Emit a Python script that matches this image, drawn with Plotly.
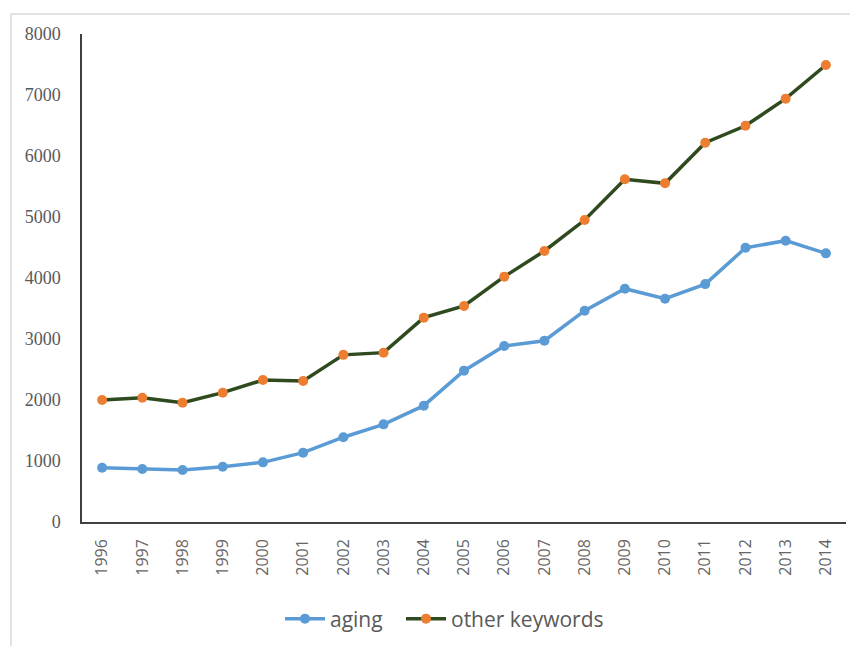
import plotly.graph_objects as go

years = [str(y) for y in range(1996, 2015)]
aging = [890, 869, 852, 907, 978, 1137, 1390, 1601, 1907, 2481, 2885, 2972, 3464, 3825, 3660, 3900, 4495, 4612, 4404]
other_keywords = [2000, 2038, 1956, 2120, 2328, 2311, 2740, 2776, 3350, 3541, 4022, 4443, 4950, 5618, 5552, 6218, 6495, 6940, 7492]
y_ticks = [0, 1000, 2000, 3000, 4000, 5000, 6000, 7000, 8000]

fig = go.Figure()
fig.add_trace(go.Scatter(
    x=years, y=aging, name="aging", mode="lines+markers",
    line=dict(color="#5B9BD5", width=3.5),
    marker=dict(color="#5B9BD5", size=10),
    legend="legend",
))
fig.add_trace(go.Scatter(
    x=years, y=other_keywords, name="other keywords", mode="lines+markers",
    line=dict(color="#2E4A1E", width=3.5),
    marker=dict(color="#ED7D31", size=10),
    legend="legend2",
))

# page has an 8px body offset; figure coordinates = screen - 8
OFF = 8
W, H = 858, 646
ml, mt = 82 - OFF, 34 - OFF
plot_right, plot_bottom = 846 - OFF, 522 - OFF
mr, mb = W - plot_right, H - plot_bottom
pw, ph = W - ml - mr, H - mt - mb

def px(x):
    return (x - OFF - ml) / pw

def py(y):
    return (H - mb - (y - OFF)) / ph

legend_font = dict(family="Open Sans, Liberation Sans", size=21, color="#595959")

fig.update_layout(
    width=W, height=H,
    margin=dict(l=ml, r=mr, t=mt, b=mb),
    paper_bgcolor="white", plot_bgcolor="white",
    showlegend=True,
    legend=dict(orientation="h", x=px(280), xanchor="left", y=py(619), yanchor="middle",
                font=legend_font, bgcolor="rgba(0,0,0,0)", itemwidth=40),
    legend2=dict(orientation="h", x=px(401), xanchor="left", y=py(619), yanchor="middle",
                 font=legend_font, bgcolor="rgba(0,0,0,0)", itemwidth=40),
    shapes=[dict(type="rect", xref="paper", yref="paper",
                 x0=px(11), x1=px(900), y0=py(700), y1=py(14),
                 line=dict(color="#D9D9D9", width=1.5), layer="below")],
)
fig.update_xaxes(
    type="category", range=[-0.5, 18.5], tickangle=-90,
    showline=True, linecolor="#404040", linewidth=1.5, showgrid=False,
    ticks="", ticklabelstandoff=9,
    tickfont=dict(family="Open Sans, Liberation Sans", size=16, color="#666666"),
)
fig.update_yaxes(
    range=[0, 8000], tickvals=y_ticks, showline=True, linecolor="#404040", linewidth=1.5,
    showgrid=False, zeroline=False, ticks="", ticklabelstandoff=16,
    tickfont=dict(family="Liberation Serif, DejaVu Serif", size=18, color="#595959"),
)

fig.write_html("out.html")
